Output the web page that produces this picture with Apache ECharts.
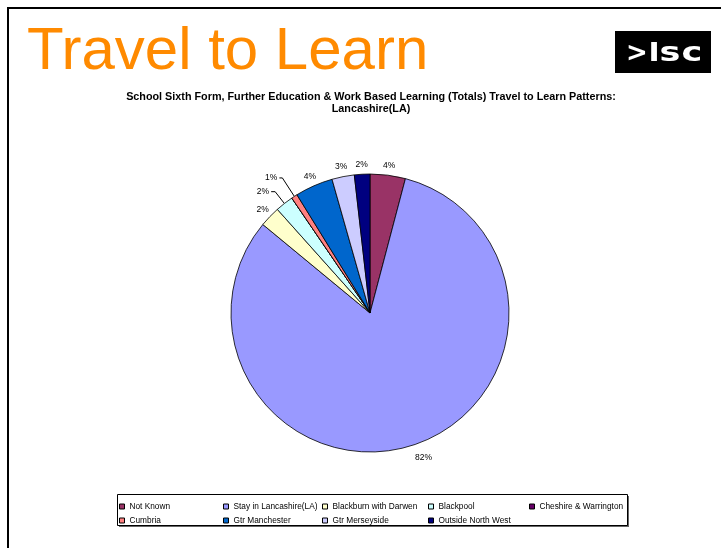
<!DOCTYPE html>
<html><head><meta charset="utf-8">
<script src="https://cdn.jsdelivr.net/npm/echarts@6/dist/echarts.min.js"></script>
<style>html,body{margin:0;padding:0;background:#fff}#c{width:721px;height:548px}</style>
</head><body><div id="c"></div>
<script>
// ---- data ----
const categories = ['Not Known','Stay in Lancashire(LA)','Blackburn with Darwen','Blackpool','Cheshire & Warrington','Cumbria','Gtr Manchester','Gtr Merseyside','Outside North West'];
const shares = [4.1, 81.8, 2.4, 2.1, 0, 0.7, 4.4, 2.6, 1.8];
const colors = ['#993366','#9999FF','#FFFFCC','#CCFFFF','#660066','#FF8080','#0066CC','#CCCCFF','#000080'];
const legendColumns = [
  ['Not Known','Cumbria'],
  ['Stay in Lancashire(LA)','Gtr Manchester'],
  ['Blackburn with Darwen','Gtr Merseyside'],
  ['Blackpool','Outside North West'],
  ['Cheshire & Warrington']
];
const pageTitle = 'Travel to Learn';
const chartTitle = 'School Sixth Form, Further Education & Work Based Learning (Totals) Travel to Learn Patterns:\nLancashire(LA)';

// ---- chart ----
const FONT = 'Liberation Sans, Arial, sans-serif';
const leaderStyle = {
  'Cumbria':   {length: 22, length2: 3},
  'Blackpool': {length: 15, length2: 4}
};
const plainLabelStyle = {
  'Stay in Lancashire(LA)': {length: 13, length2: 7}
};
const pieData = categories.map((name, i) => {
  const item = {name, value: shares[i], itemStyle: {color: colors[i]}};
  if (shares[i] === 0) {
    item.label = {show: false};
    item.labelLine = {show: false};
  } else if (leaderStyle[name]) {
    item.labelLine = {show: true, length: leaderStyle[name].length, length2: leaderStyle[name].length2,
                      lineStyle: {color: '#000', width: 1}};
    item.label = {distanceToLabelLine: 2};
  } else {
    const s = plainLabelStyle[name] || {length: 10, length2: 0};
    item.labelLine = {show: false, length: s.length, length2: s.length2};
    item.label = {distanceToLabelLine: 0};
  }
  return item;
});

const legendLefts = [119, 223, 322, 428, 529];
const legends = legendColumns.map((names, i) => ({
  data: names, orient: 'vertical', left: legendLefts[i], top: 502,
  itemWidth: 5, itemHeight: 5, itemGap: 5, padding: 0, icon: 'rect',
  selectedMode: false,
  textStyle: {fontSize: 8.3, color: '#000', fontFamily: FONT, lineHeight: 9},
  itemStyle: {borderColor: '#000', borderWidth: 1}
}));

const logoText = (ch, x, size, sx) => ({
  type: 'text', x, y: 54, scaleX: sx,
  style: {text: ch, fill: '#fff', fontSize: size, fontWeight: 'bold', fontFamily: 'DejaVu Sans', align: 'center', verticalAlign: 'middle'},
  silent: true
});

const chart = echarts.init(document.getElementById('c'), null, {renderer: 'canvas'});
chart.setOption({
  animation: false,
  backgroundColor: '#fff',
  legend: legends,
  graphic: [
    {type: 'rect', shape: {x: 7, y: 7, width: 714, height: 2}, style: {fill: '#000'}, silent: true},
    {type: 'rect', shape: {x: 7, y: 7, width: 2, height: 541}, style: {fill: '#000'}, silent: true},
    {type: 'text', x: 27, y: 52, style: {text: pageTitle, fill: '#FF8A00', fontSize: 60, fontFamily: FONT, verticalAlign: 'middle', align: 'left'}, silent: true},
    {type: 'rect', shape: {x: 615, y: 31, width: 96, height: 42}, style: {fill: '#000'}, silent: true},
    logoText('>', 637, 26, 1),
    logoText('l', 654, 25, 1.3),
    logoText('s', 670, 27, 1.3),
    logoText('c', 692, 27, 1.3),
    {type: 'text', x: 371, y: 103, style: {text: chartTitle, fill: '#000', fontSize: 10.8, fontWeight: 'bold', fontFamily: FONT, lineHeight: 12.5, align: 'center', verticalAlign: 'middle'}, silent: true},
    {type: 'rect', shape: {x: 119, y: 496, width: 510, height: 31}, style: {fill: '#666'}, silent: true},
    {type: 'rect', shape: {x: 117.5, y: 494.5, width: 510, height: 31}, style: {fill: '#fff', stroke: '#000', lineWidth: 1}, silent: true}
  ],
  series: [{
    type: 'pie',
    center: [370, 313],
    radius: 139,
    startAngle: 90,
    clockwise: true,
    avoidLabelOverlap: false,
    silent: true,
    itemStyle: {borderColor: '#000', borderWidth: 0.8},
    label: {
      show: true, position: 'outside', fontSize: 8.5, color: '#000', fontFamily: FONT,
      formatter: p => Math.round(p.percent) + '%'
    },
    labelLayout: params => (leaderStyle[categories[params.dataIndex]] ? {} : {align: 'center'}),
    emphasis: {disabled: true},
    data: pieData
  }]
});
</script>
</body></html>
